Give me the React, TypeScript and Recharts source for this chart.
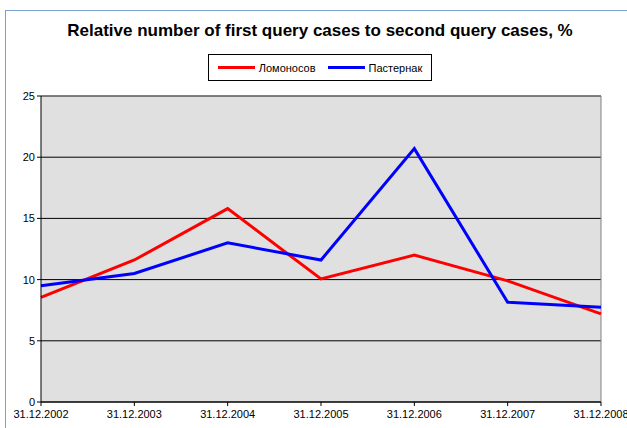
import React from 'react';
import {
  LineChart,
  Line,
  XAxis,
  YAxis,
  CartesianGrid,
  ReferenceLine,
} from 'recharts';

// Year-end dates on the x axis
const dates = [
  '31.12.2002',
  '31.12.2003',
  '31.12.2004',
  '31.12.2005',
  '31.12.2006',
  '31.12.2007',
  '31.12.2008',
];

// Relative share, %
const lomonosov = [8.55, 11.6, 15.8, 10.05, 12.0, 9.9, 7.2];
const pasternak = [9.5, 10.5, 13.0, 11.6, 20.7, 8.15, 7.75];

const yTicks = [0, 5, 10, 15, 20, 25];

const series = [
  { key: 'lomonosov', name: 'Ломоносов', color: '#ff0000' },
  { key: 'pasternak', name: 'Пастернак', color: '#0000ff' },
];

const data = dates.map((date, i) => ({
  date,
  lomonosov: lomonosov[i],
  pasternak: pasternak[i],
}));

const font = '"Liberation Sans", Arial, sans-serif';

export default function App() {
  return (
    <div
      style={{
        position: 'absolute',
        left: 0,
        top: 0,
        width: 627,
        height: 428,
        background: '#fff',
        overflow: 'hidden',
        fontFamily: font,
      }}
    >
      {/* outer chart frame */}
      <div
        style={{
          position: 'absolute',
          left: 5,
          top: 10,
          width: 640,
          height: 440,
          borderLeft: '1px solid #7ba0cd',
          borderTop: '1px solid #7ba0cd',
        }}
      />
      <div
        style={{
          position: 'absolute',
          top: 21,
          left: 0,
          width: 640,
          textAlign: 'center',
          fontSize: 17,
          lineHeight: '20px',
          fontWeight: 'bold',
          color: '#000',
        }}
      >
        Relative number of first query cases to second query cases, %
      </div>
      <div
        style={{
          position: 'absolute',
          left: 208,
          top: 54,
          width: 222,
          height: 25,
          border: '1px solid #000',
          display: 'flex',
          alignItems: 'center',
          justifyContent: 'center',
          gap: 12,
          fontSize: 11,
          background: '#fff',
        }}
      >
        {series.map(s => (
          <div key={s.key} style={{ display: 'flex', alignItems: 'center' }}>
            <span
              style={{
                display: 'inline-block',
                width: 37,
                height: 3,
                background: s.color,
                marginRight: 4,
              }}
            />
            {s.name}
          </div>
        ))}
      </div>
      <div style={{ position: 'absolute', left: 0, top: 0 }}>
        <LineChart
          width={627}
          height={428}
          data={data}
          margin={{ top: 96, right: 26, left: 0, bottom: 0 }}
        >
          <CartesianGrid
            vertical={false}
            stroke="#000"
            fill="#e0e0e0"
            fillOpacity={1}
          />
          <XAxis
            dataKey="date"
            interval={0}
            height={26}
            tickSize={4}
            tickMargin={4}
            stroke="#000"
            tick={{ fill: '#000', fontSize: 11, fontFamily: font }}
            padding={{ left: 0, right: 0 }}
          />
          <YAxis
            width={41}
            domain={[0, 25]}
            ticks={yTicks}
            tickSize={4}
            stroke="#000"
            tick={{ fill: '#000', fontSize: 11, fontFamily: font }}
          />
          <ReferenceLine x="31.12.2008" stroke="#808080" />
          <ReferenceLine y={25} stroke="#808080" />
          {series.map(s => (
            <Line
              key={s.key}
              type="linear"
              dataKey={s.key}
              name={s.name}
              stroke={s.color}
              strokeWidth={3}
              dot={false}
              activeDot={false}
              isAnimationActive={false}
            />
          ))}
        </LineChart>
      </div>
    </div>
  );
}
